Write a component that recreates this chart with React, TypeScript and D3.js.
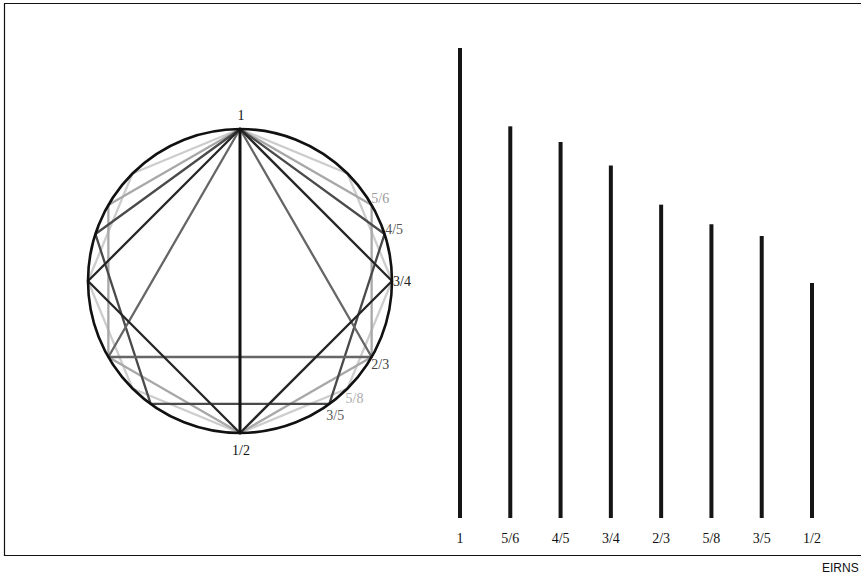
import React, { useRef, useEffect } from 'react';
import * as d3 from 'd3';

// string lengths (as fraction of the whole string)
const ratioLabels = ['1', '5/6', '4/5', '3/4', '2/3', '5/8', '3/5', '1/2'];
const ratioValues = [1, 5 / 6, 4 / 5, 3 / 4, 2 / 3, 5 / 8, 3 / 5, 1 / 2];

// inscribed figures, all hung from the top point
const polygonSides = [8, 6, 5, 3, 4, 2];

const labelShade: Record<string, string> = {
  '1': '#111', '5/6': '#9a9a9a', '4/5': '#555', '3/4': '#222',
  '2/3': '#444', '5/8': '#aaa', '3/5': '#5a5a5a', '1/2': '#111',
};
const polyShade: Record<number, string> = {
  8: '#cdcdcd', 6: '#a8a8a8', 5: '#4a4a4a', 3: '#666', 4: '#262626', 2: '#111',
};

const W = 861;
const H = 575;

const App: React.FC = () => {
  const ref = useRef<SVGSVGElement | null>(null);

  useEffect(() => {
    const svg = d3.select(ref.current);
    svg.selectAll('*').remove();

    // frame
    svg.append('path')
      .attr('d', `M ${W} 3.5 H 4.5 V 555.5 H ${W}`)
      .attr('fill', 'none')
      .attr('stroke', '#111')
      .attr('stroke-width', 1.2);

    svg.append('text')
      .attr('x', 822)
      .attr('y', 572)
      .attr('font-family', 'Liberation Sans, Arial, sans-serif')
      .attr('font-size', 12)
      .attr('fill', '#111')
      .text('EIRNS');

    // ---- circle ----
    const cx = 240, cy = 281, R = 152;
    const angle = d3.scaleLinear().domain([1, 0]).range([0, 2 * Math.PI]);
    const pt = (a: number, rad = R): [number, number] =>
      [cx + rad * Math.sin(a), cy - rad * Math.cos(a)];

    const g = svg.append('g');

    polygonSides.forEach(n => {
      const verts = d3.range(n).map(k => pt((2 * Math.PI * k) / n));
      g.append('path')
        .attr('d', d3.line().curve(d3.curveLinearClosed)(verts) as string)
        .attr('fill', 'none')
        .attr('stroke', polyShade[n])
        .attr('stroke-width', n === 2 ? 3 : 2.3)
        .attr('stroke-linejoin', 'round');
    });

    g.append('circle')
      .attr('cx', cx)
      .attr('cy', cy)
      .attr('r', R)
      .attr('fill', 'none')
      .attr('stroke', '#111')
      .attr('stroke-width', 2.6);

    ratioLabels.forEach((lab, i) => {
      const a = angle(ratioValues[i]);
      let x: number, y: number;
      if (lab === '1') { x = cx + 1; y = cy - R - 14; }
      else if (lab === '1/2') { x = cx + 1; y = cy + R + 17; }
      else {
        [x, y] = pt(a, R + 10);
        y -= 4 * Math.cos(a);
      }
      g.append('text')
        .attr('x', x)
        .attr('y', y)
        .attr('text-anchor', 'middle')
        .attr('dominant-baseline', 'central')
        .attr('font-family', 'Liberation Serif, Times New Roman, serif')
        .attr('font-size', 14)
        .attr('fill', labelShade[lab])
        .text(lab);
    });

    // ---- bars ----
    const x = d3.scalePoint<string>().domain(ratioLabels).range([460, 812]);
    const y = d3.scaleLinear().domain([0, 1]).range([518, 48]);

    svg.append('g')
      .selectAll('rect')
      .data(ratioValues)
      .join('rect')
      .attr('x', (d, i) => (x(ratioLabels[i]) ?? 0) - 2)
      .attr('y', d => y(d))
      .attr('width', 4)
      .attr('height', d => y(0) - y(d))
      .attr('fill', '#151515');

    svg.append('g')
      .selectAll('text')
      .data(ratioLabels)
      .join('text')
      .attr('x', d => x(d) ?? 0)
      .attr('y', 543)
      .attr('text-anchor', 'middle')
      .attr('font-family', 'Liberation Serif, Times New Roman, serif')
      .attr('font-size', 14)
      .attr('fill', '#111')
      .text(d => d);
  }, []);

  return (
    <svg
      ref={ref}
      width={W}
      height={H}
      style={{ position: 'absolute', left: 0, top: 0, background: '#fff' }}
    />
  );
};

export default App;
